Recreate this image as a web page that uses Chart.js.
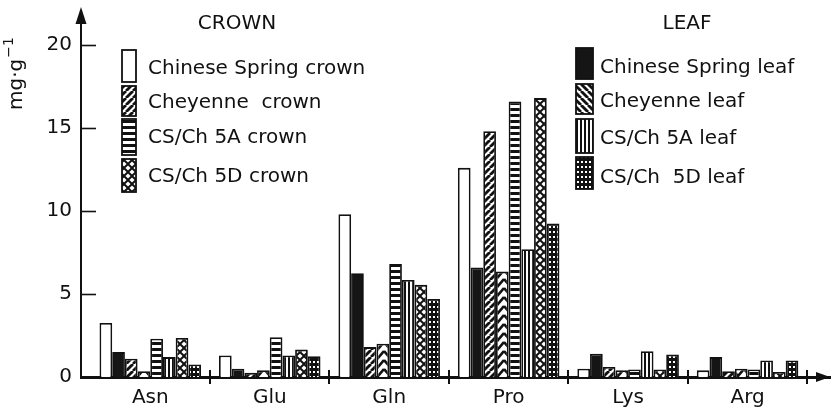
<!DOCTYPE html>
<html>
<head>
<meta charset="utf-8">
<script src="https://cdn.jsdelivr.net/npm/chart.js@4.4.1/dist/chart.umd.min.js"></script>
<style>
  html, body { margin: 0; padding: 0; background: #fff; }
  #wrap { width: 832px; height: 408px; position: relative; }
</style>
</head>
<body>
<div id="wrap"><canvas id="c" width="832" height="408"></canvas></div>
<script>
// Amino acids measured in each tissue (mg per g)
const categories = ['Asn', 'Glu', 'Gln', 'Pro', 'Lys', 'Arg'];

const csCrown   = [3.25, 1.3, 9.8, 12.6, 0.5, 0.4];
const csLeaf    = [1.5, 0.5, 6.25, 6.6, 1.4, 1.2];
const cheyCrown = [1.1, 0.25, 1.8, 14.8, 0.6, 0.35];
const cheyLeaf  = [0.35, 0.4, 2.0, 6.35, 0.4, 0.5];
const a5Crown   = [2.3, 2.4, 6.8, 16.6, 0.45, 0.45];
const a5Leaf    = [1.2, 1.3, 5.85, 7.7, 1.55, 1.0];
const d5Crown   = [2.35, 1.65, 5.55, 16.8, 0.45, 0.3];
const d5Leaf    = [0.75, 1.25, 4.7, 9.25, 1.35, 1.0];

const yTicks = [0, 5, 10, 15, 20];

const crownNames = ['Chinese Spring crown', 'Cheyenne  crown', 'CS/Ch 5A crown', 'CS/Ch 5D crown'];
const leafNames  = ['Chinese Spring leaf', 'Cheyenne leaf', 'CS/Ch 5A leaf', 'CS/Ch  5D leaf'];

const INK = '#111';
const FONT = '"DejaVu Sans", sans-serif';

// ---- hatch fills ----
function tile(w, h, paint) {
  const c = document.createElement('canvas');
  c.width = w; c.height = h;
  const g = c.getContext('2d');
  g.fillStyle = '#fff';
  g.fillRect(0, 0, w, h);
  g.strokeStyle = INK;
  g.fillStyle = INK;
  paint(g, w, h);
  return g.createPattern(c, 'repeat');
}

const fills = {
  plain: '#fff',
  solid: '#151515',
  slash: tile(7, 7, (g, w, h) => {
    g.lineWidth = 2.8;
    for (let k = -1; k <= 1; k++) {
      g.beginPath(); g.moveTo(k * w, h); g.lineTo(k * w + w, 0); g.stroke();
    }
  }),
  back: tile(7, 7, (g, w, h) => {
    g.lineWidth = 2.8;
    for (let k = -1; k <= 1; k++) {
      g.beginPath(); g.moveTo(k * w, 0); g.lineTo(k * w + w, h); g.stroke();
    }
  }),
  chevron: tile(12, 9, (g, w, h) => {
    g.lineWidth = 2.6;
    for (let k = -1; k <= 1; k++) {
      g.beginPath();
      g.moveTo(0, k * h); g.lineTo(w / 2, k * h + 7); g.lineTo(w, k * h);
      g.stroke();
    }
  }),
  hstripe: tile(6, 6, (g, w, h) => {
    g.fillRect(0, 0, w, 3);
  }),
  vstripe: tile(4, 4, (g, w, h) => {
    g.fillRect(0, 0, 2, h);
  }),
  diamond: tile(8, 8, (g, w, h) => {
    g.fillRect(0, 0, w, h);
    g.fillStyle = '#fff';
    const d = (cx, cy, r) => {
      g.beginPath();
      g.moveTo(cx, cy - r); g.lineTo(cx + r, cy); g.lineTo(cx, cy + r); g.lineTo(cx - r, cy);
      g.closePath(); g.fill();
    };
    d(4, 4, 2.6); d(0, 0, 2.6); d(8, 0, 2.6); d(0, 8, 2.6); d(8, 8, 2.6);
  }),
  dots: tile(4, 5, (g, w, h) => {
    g.fillRect(0, 0, w, h);
    g.fillStyle = '#fff';
    g.fillRect(1, 1, 2, 2);
  })
};

const seriesDefs = [
  { label: crownNames[0], data: csCrown,   fill: fills.plain },
  { label: leafNames[0],  data: csLeaf,    fill: fills.solid },
  { label: crownNames[1], data: cheyCrown, fill: fills.slash },
  { label: leafNames[1],  data: cheyLeaf,  fill: fills.chevron },
  { label: crownNames[2], data: a5Crown,   fill: fills.hstripe },
  { label: leafNames[2],  data: a5Leaf,    fill: fills.vstripe },
  { label: crownNames[3], data: d5Crown,   fill: fills.diamond },
  { label: leafNames[3],  data: d5Leaf,    fill: fills.dots }
];

const crownLegend = [fills.plain, fills.slash, fills.hstripe, fills.diamond];
const leafLegend  = [fills.solid, fills.back, fills.vstripe, fills.dots];

// ---- axes, arrows, dividers, legends ----
const decorations = {
  id: 'decorations',
  afterDraw(chart) {
    const { ctx, chartArea: a, scales: { x, y } } = chart;
    ctx.save();
    ctx.strokeStyle = INK;
    ctx.fillStyle = INK;

    // vertical axis extension + arrow
    ctx.lineWidth = 2;
    ctx.beginPath(); ctx.moveTo(a.left, a.top); ctx.lineTo(a.left, 18); ctx.stroke();
    ctx.beginPath();
    ctx.moveTo(a.left, 7); ctx.lineTo(a.left - 5.5, 24); ctx.lineTo(a.left + 5.5, 24);
    ctx.closePath(); ctx.fill();

    // horizontal axis arrow
    ctx.beginPath();
    ctx.moveTo(a.right, a.bottom); ctx.lineTo(a.right - 14, a.bottom - 5); ctx.lineTo(a.right - 14, a.bottom + 5);
    ctx.closePath(); ctx.fill();

    // inward ticks on the value axis
    ctx.lineWidth = 1.6;
    yTicks.forEach(v => {
      const py = Math.round(y.getPixelForValue(v)) + 0.5;
      if (v === 0) return;
      ctx.beginPath(); ctx.moveTo(a.left, py); ctx.lineTo(a.left + 15, py); ctx.stroke();
    });

    // separators between amino-acid groups
    ctx.lineWidth = 2;
    for (let i = 0; i < categories.length; i++) {
      const px = Math.round(x.getPixelForValue(i + 0.5));
      ctx.beginPath(); ctx.moveTo(px, a.bottom - 7); ctx.lineTo(px, a.bottom + 7); ctx.stroke();
    }

    // unit label
    ctx.save();
    ctx.translate(17, 110);
    ctx.rotate(-Math.PI / 2);
    ctx.font = '20px ' + FONT;
    ctx.textBaseline = 'middle';
    ctx.textAlign = 'left';
    ctx.fillText('mg\u00B7g', 0, 0);
    const w = ctx.measureText('mg\u00B7g').width;
    ctx.font = '14px ' + FONT;
    ctx.fillText('\u22121', w + 1, -8);
    ctx.restore();

    // group legends
    const drawLegend = (title, titleX, boxX, boxW, textX, rows, names, fillsList) => {
      ctx.font = '20px ' + FONT;
      ctx.textBaseline = 'middle';
      ctx.textAlign = 'center';
      ctx.fillStyle = INK;
      ctx.fillText(title, titleX, 24);
      ctx.textAlign = 'left';
      rows.forEach((r, i) => {
        ctx.fillStyle = fillsList[i];
        ctx.fillRect(boxX, r.top, boxW, r.h);
        ctx.lineWidth = 1.8;
        ctx.strokeStyle = INK;
        ctx.strokeRect(boxX, r.top, boxW, r.h);
        ctx.fillStyle = INK;
        ctx.fillText(names[i], textX, r.text);
      });
    };
    drawLegend('CROWN', 237, 122, 14, 148,
      [{ top: 50, h: 32, text: 69 }, { top: 86, h: 30, text: 103 },
       { top: 119, h: 36, text: 138 }, { top: 159, h: 33, text: 177 }],
      crownNames, crownLegend);
    drawLegend('LEAF', 687, 576, 17, 600,
      [{ top: 48, h: 31, text: 68 }, { top: 84, h: 30, text: 102 },
       { top: 119, h: 34, text: 139 }, { top: 157, h: 32, text: 178 }],
      leafNames, leafLegend);

    ctx.restore();
  }
};

new Chart(document.getElementById('c'), {
  type: 'bar',
  data: {
    datasets: seriesDefs.map(s => ({
      label: s.label,
      data: s.data.map((v, i) => ({ x: i, y: v })),
      backgroundColor: s.fill,
      borderColor: INK,
      borderWidth: 1.8,
      categoryPercentage: 0.85,
      barPercentage: 1.0
    }))
  },
  options: {
    responsive: false,
    animation: false,
    layout: { padding: { top: 45, right: 2, left: 0, bottom: 0 } },
    plugins: { legend: { display: false }, tooltip: { enabled: false } },
    scales: {
      x: {
        type: 'linear',
        offset: false,
        bounds: 'data',
        min: -0.58,
        max: 5.69,
        afterFit: s => { s.height = 31; },
        afterBuildTicks: s => { s.ticks = categories.map((c, i) => ({ value: i })); },
        ticks: {
          autoSkip: false,
          maxRotation: 0,
          padding: 9,
          color: INK,
          font: { family: FONT, size: 20 },
          callback: v => categories[v] ?? ''
        },
        grid: { display: false, drawTicks: false },
        border: { display: true, color: INK, width: 3 }
      },
      y: {
        min: 0,
        max: 20,
        afterFit: s => { s.width = 81; },
        afterBuildTicks: s => { s.ticks = yTicks.map(v => ({ value: v })); },
        ticks: {
          padding: 9,
          color: INK,
          font: { family: FONT, size: 20 }
        },
        grid: { display: false, drawTicks: false },
        border: { display: true, color: INK, width: 2 }
      }
    }
  },
  plugins: [decorations]
});
</script>
</body>
</html>
